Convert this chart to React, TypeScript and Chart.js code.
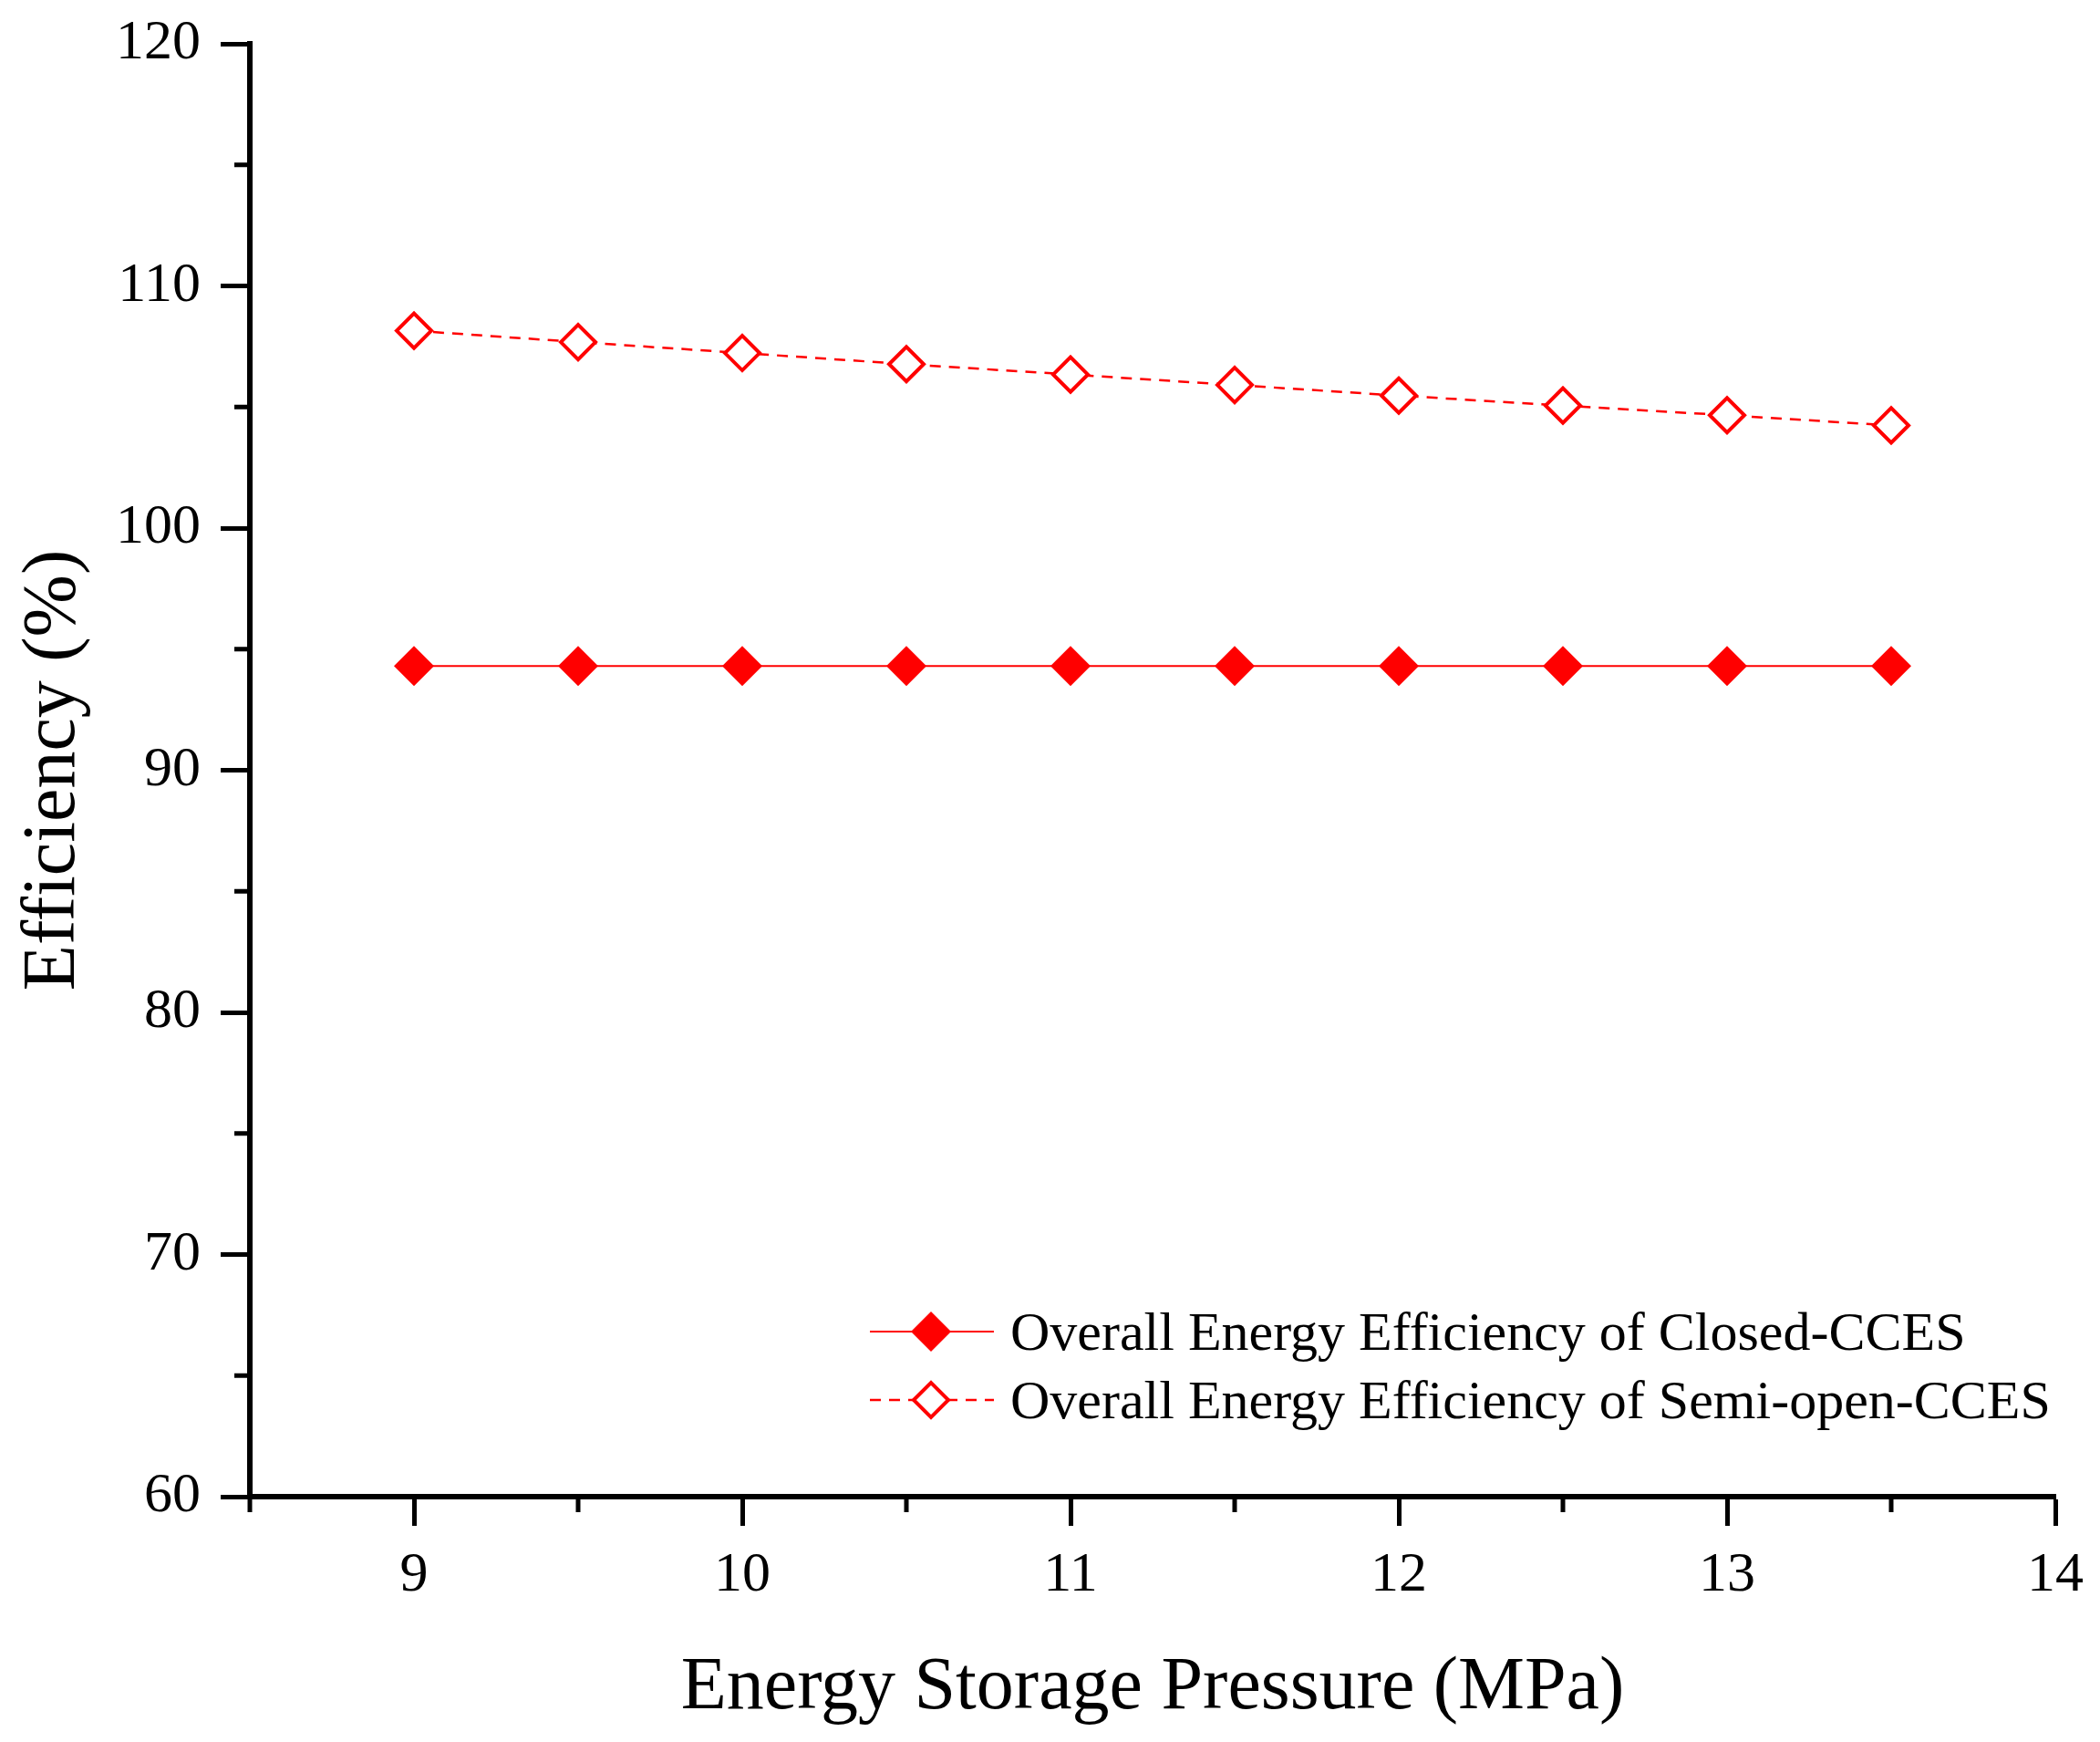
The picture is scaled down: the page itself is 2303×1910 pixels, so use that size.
import { useEffect, useRef } from "react"
import { Chart, registerables } from "chart.js"

Chart.register(...registerables)

// Data
const pressures = [9, 9.5, 10, 10.5, 11, 11.5, 12, 12.5, 13, 13.5]
const closedEfficiency = [94.3, 94.3, 94.3, 94.3, 94.3, 94.3, 94.3, 94.3, 94.3, 94.3]
const semiOpenEfficiency = [108.15, 107.68, 107.23, 106.77, 106.34, 105.91, 105.47, 105.06, 104.66, 104.24]
const seriesLabels = [
  "Overall Energy Efficiency of Closed-CCES",
  "Overall Energy Efficiency of Semi-open-CCES",
]
const xTicks = [9, 10, 11, 12, 13, 14]
const xMinorTicks = [8.5, 9.5, 10.5, 11.5, 12.5, 13.5]
const yTicks = [60, 70, 80, 90, 100, 110, 120]
const yMinorTicks = [65, 75, 85, 95, 105, 115]

const FONT = "'Liberation Serif', 'Times New Roman', serif"
const RED = "#ff0000"

const minorTicksPlugin = {
  id: "minorTicks",
  afterDraw(chart: any) {
    const { ctx } = chart
    const x = chart.scales.x
    const y = chart.scales.y
    ctx.save()
    ctx.strokeStyle = "#000"
    ctx.lineWidth = 5
    ctx.beginPath()
    xMinorTicks.forEach((v) => {
      const px = x.getPixelForValue(v)
      ctx.moveTo(px, x.top)
      ctx.lineTo(px, x.top + 17)
    })
    yMinorTicks.forEach((v) => {
      const py = y.getPixelForValue(v)
      ctx.moveTo(y.right, py)
      ctx.lineTo(y.right - 17, py)
    })
    ctx.stroke()
    ctx.restore()
  },
}

const legendPlugin = {
  id: "lineLegend",
  afterDraw(chart: any) {
    const { ctx, chartArea } = chart
    const lineStart = chartArea.left + 680
    const lineEnd = lineStart + 136
    const markerX = lineStart + 67
    const textX = lineEnd + 18
    const firstRow = chartArea.bottom - 181
    const rowGap = 75
    ctx.save()
    chart.data.datasets.forEach((ds: any, i: number) => {
      const cy = firstRow + i * rowGap
      ctx.strokeStyle = ds.borderColor
      ctx.lineWidth = ds.borderWidth
      ctx.setLineDash(ds.borderDash || [])
      ctx.beginPath()
      ctx.moveTo(lineStart, cy)
      ctx.lineTo(lineEnd, cy)
      ctx.stroke()
      ctx.setLineDash([])
      const r = ds.pointRadius
      ctx.beginPath()
      ctx.moveTo(markerX - r, cy)
      ctx.lineTo(markerX, cy - r)
      ctx.lineTo(markerX + r, cy)
      ctx.lineTo(markerX, cy + r)
      ctx.closePath()
      ctx.fillStyle = ds.pointBackgroundColor
      ctx.fill()
      if (ds.pointBorderWidth > 0) {
        ctx.lineWidth = ds.pointBorderWidth
        ctx.strokeStyle = ds.pointBorderColor
        ctx.stroke()
      }
      ctx.fillStyle = "#000"
      ctx.font = `60px ${FONT}`
      ctx.textBaseline = "alphabetic"
      ctx.textAlign = "left"
      ctx.fillText(ds.label, textX, cy + 20)
    })
    ctx.restore()
  },
}

export default function App() {
  const chartRef = useRef<HTMLCanvasElement>(null)
  const chartInstance = useRef<Chart | null>(null)

  useEffect(() => {
    if (!chartRef.current) return
    if (chartInstance.current) chartInstance.current.destroy()
    const ctx = chartRef.current.getContext("2d")
    if (!ctx) return

    chartInstance.current = new Chart(ctx, {
      type: "line",
      data: {
        datasets: [
          {
            label: seriesLabels[0],
            data: pressures.map((p, i) => ({ x: p, y: closedEfficiency[i] })),
            borderColor: RED,
            borderWidth: 2,
            pointStyle: "rectRot",
            pointRadius: 22,
            pointBackgroundColor: RED,
            pointBorderColor: RED,
            pointBorderWidth: 0,
          },
          {
            label: seriesLabels[1],
            data: pressures.map((p, i) => ({ x: p, y: semiOpenEfficiency[i] })),
            borderColor: RED,
            borderWidth: 2.5,
            borderDash: [12, 9],
            pointStyle: "rectRot",
            pointRadius: 19,
            pointBackgroundColor: "#ffffff",
            pointBorderColor: RED,
            pointBorderWidth: 4,
          },
        ] as any,
      },
      options: {
        animation: false,
        responsive: true,
        maintainAspectRatio: false,
        layout: { padding: { left: 0, top: 48, right: 47, bottom: 0 } },
        plugins: {
          legend: { display: false },
          tooltip: { enabled: false },
        },
        scales: {
          x: {
            type: "linear",
            min: 8.5,
            max: 14,
            afterBuildTicks: (scale: any) => {
              scale.ticks = xTicks.map((value) => ({ value }))
            },
            afterFit: (scale: any) => {
              scale.height = 269
            },
            grid: {
              drawOnChartArea: false,
              drawTicks: true,
              tickLength: 32,
              tickWidth: 5,
              tickColor: "#000",
            },
            border: { display: true, color: "#000", width: 6 },
            ticks: {
              color: "#000",
              padding: 18,
              font: { family: FONT, size: 62 },
            },
            title: {
              display: true,
              text: "Energy Storage Pressure (MPa)",
              color: "#000",
              font: { family: FONT, size: 82 },
              padding: { top: 0, bottom: 9 },
            },
          },
          y: {
            type: "linear",
            min: 60,
            max: 120,
            afterBuildTicks: (scale: any) => {
              scale.ticks = yTicks.map((value) => ({ value }))
            },
            afterFit: (scale: any) => {
              scale.width = 274
              scale.paddingTop = 0
              scale.paddingBottom = 0
            },
            grid: {
              drawOnChartArea: false,
              drawTicks: true,
              tickLength: 32,
              tickWidth: 5,
              tickColor: "#000",
            },
            border: { display: true, color: "#000", width: 6 },
            ticks: {
              color: "#000",
              padding: 22,
              font: { family: FONT, size: 62, lineHeight: 0.8 },
            },
            title: {
              display: true,
              text: "Efficiency (%)",
              color: "#000",
              font: { family: FONT, size: 82 },
              padding: { top: 10, bottom: 0 },
            },
          },
        },
      },
      plugins: [minorTicksPlugin, legendPlugin],
    })

    return () => {
      if (chartInstance.current) {
        chartInstance.current.destroy()
        chartInstance.current = null
      }
    }
  }, [])

  return (
    <div style={{ position: "absolute", left: 0, top: 0, width: 2303, height: 1910, background: "#fff" }}>
      <canvas ref={chartRef} />
    </div>
  )
}
